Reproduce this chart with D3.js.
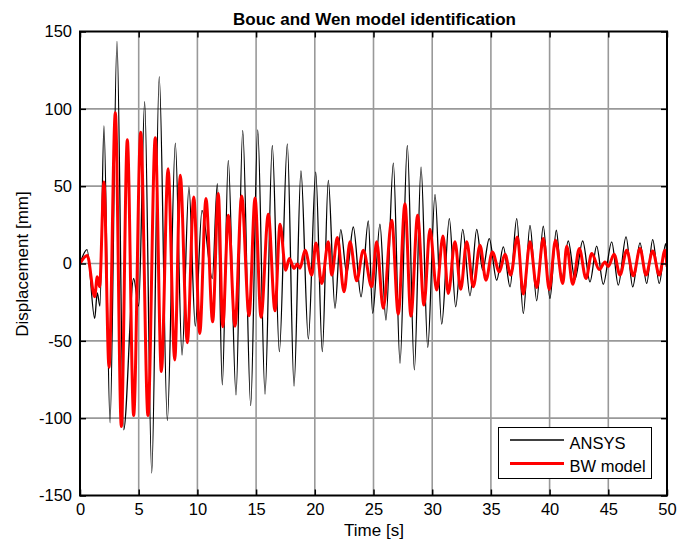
<!DOCTYPE html>
<html>
<head>
<meta charset="utf-8">
<script src="https://cdn.jsdelivr.net/npm/d3@7"></script>
<style>
  body { margin: 0; background: #fff; }
  svg { display: block; font-family: "Liberation Sans", Arial, Helvetica, sans-serif; }
</style>
</head>
<body>
<div id="chart"></div>
<script>
// peaks and troughs, time [s] / displacement [mm]
const ansysT = [0, 0.6, 1.25, 1.47, 1.7, 2.04, 2.56, 3.15, 3.72, 4.57, 5.0, 5.51, 6.11, 6.75, 7.44, 8.12, 8.69, 9.28, 9.82, 10.39,
  11.27, 11.7, 12.12, 12.63, 13.29, 13.86, 14.54, 15.14, 15.76, 16.38, 16.98, 17.66, 18.23, 18.82, 19.45, 20.08, 20.64, 21.15,
  21.72, 22.21, 22.72, 23.28, 23.94, 24.56, 24.93, 25.55, 26.06, 26.69, 27.26, 27.88, 28.48, 29.05, 29.62, 30.24, 30.81,
  31.46, 32.0, 32.6, 33.22, 33.79, 34.3, 34.86, 35.49, 36.06, 36.63, 37.2, 37.76, 38.33, 38.9, 39.46, 40.03, 40.57,
  41.03, 41.59, 42.16, 42.82, 43.44, 44.01, 44.57, 45.29, 45.85, 46.51, 47.08, 47.7, 48.27, 48.78, 49.34, 49.89, 50];
const ansysV = [0, 9, -35.5, -19, -27.5, 89, -103, 143.6, -107.5, -9.7, -27.5, 104.7, -135.5, 120.8, -101.5, 77.8, -59.2, 49.4, -40.5, 34.4,
  -9.7, 51.6, -78.5, 66.6, -85, 86, -91.9, 86.4, -84.5, 76.3, -57, 77.4, -79.2, 59.8, -48.8, 59.1, -57, 53.7,
  -29, 21.9, -6.5, 23.6, -21.5, 27.5, -32.3, 25.4, -36.6, 64.9, -64.5, 76.3, -68.8, 62.3, -54.2, 44.7, -39.2,
  29, -28, 22.1, -20.9, 22.1, -4.3, 16.1, -10.8, 10.7, -15.1, 29, -32.3, 24.7, -24.1, 24.1, -22.6, 21.5,
  -10.8, 14.6, -10.3, 14.6, -11.9, 11.2, -13.4, 14, -14, 17.2, -15.1, 13.3, -12.9, 15.5, -12.9, 12.9, 2];

const bwT = [0, 0.62, 1.25, 1.47, 1.67, 2.04, 2.47, 3.01, 3.52, 4.03, 4.57, 5.17, 5.79, 6.41, 6.93, 7.5, 8.07, 8.54, 9.14, 9.69, 10.2,
  10.73, 11.3, 11.78, 12.16, 12.63, 13.2, 13.77, 14.4, 14.91, 15.42, 16.04, 16.61, 17.04, 17.52, 17.83, 18.23, 18.51, 18.74,
  19.17, 19.74, 20.1, 20.59, 21.15, 21.44, 21.92, 22.49, 23.0, 23.57, 24.13, 24.85, 25.27, 25.83, 26.55, 27.11, 27.68,
  28.19, 28.76, 29.3, 29.81, 30.38, 30.92, 31.37, 31.94, 32.43, 32.94, 33.5, 34.07, 34.58, 35.12, 35.72, 36.2, 36.69,
  37.25, 37.76, 38.33, 38.9, 39.46, 39.97, 40.5, 41.12, 41.46, 41.97, 42.53, 43.1, 43.59, 44.23, 44.72, 45.0, 45.49,
  46.0, 46.57, 47.13, 47.7, 48.21, 48.78, 49.34, 49.83, 50];
const bwV = [0, 5.2, -21.5, -8.6, -15, 52.7, -67, 97.4, -105.4, 80, -98.3, 84.9, -98.3, 81.3, -69.9, 61.3, -62.4, 57, -51.2, 43, -45.2,
  42, -37.7, 45.2, -40.9, 31.2, -40.5, 43.6, -33.8, 42.3, -34.8, 31.8, -30.6, 25.4, -4.3, 3.2, -3.2, -0.4, -3,
  8.6, -7.5, 13.3, -12.9, 14, -7.5, 16.8, -18.3, 14, -11.2, 8.6, -15.1, 14, -29, 27.9, -32.7, 38.7,
  -34, 31.2, -26.9, 22.1, -17.2, 17.8, -19.4, 14, -16.6, 14, -15.1, 11.8, -10.8, 7.5, -5.4, 6, -7.5,
  17.2, -19.8, 14, -15.5, 16.1, -16.8, 15, -12.9, 11.2, -13.4, 9.7, -9.7, 6.5, -3.9, 1, -2, 6,
  -7.5, 8.6, -8, 9.7, -7.5, 8.1, -7.5, 8.6, -2];

const xTicks = [0, 5, 10, 15, 20, 25, 30, 35, 40, 45, 50];
const yTicks = [-150, -100, -50, 0, 50, 100, 150];
const seriesNames = ["ANSYS", "BW model"];

const width = 691, height = 544;
const margin = {top: 31.5, right: 24, bottom: 48.5, left: 80};

const svg = d3.select("#chart").append("svg")
  .attr("width", width).attr("height", height);

const x = d3.scaleLinear().domain([0, 50]).range([margin.left, width - margin.right]);
const y = d3.scaleLinear().domain([-150, 150]).range([height - margin.bottom, margin.top]);

// grid
svg.append("g").selectAll("line").data(xTicks.slice(1, -1)).join("line")
  .attr("x1", d => x(d)).attr("x2", d => x(d))
  .attr("y1", y(150)).attr("y2", y(-150))
  .attr("stroke", "#999").attr("stroke-width", 1.6);
svg.append("g").selectAll("line").data(yTicks.slice(1, -1)).join("line")
  .attr("x1", x(0)).attr("x2", x(50))
  .attr("y1", d => y(d)).attr("y2", d => y(d))
  .attr("stroke", "#999").attr("stroke-width", 1.6);

svg.append("clipPath").attr("id", "clip").append("rect")
  .attr("x", x(0)).attr("y", y(150)).attr("width", x(50) - x(0)).attr("height", y(-150) - y(150));

const line = d3.line()
  .x(d => x(d[0])).y(d => y(d[1]))
  .curve(d3.curveMonotoneX);

const ansys = d3.zip(ansysT, ansysV);
const bw = d3.zip(bwT, bwV);

const plot = svg.append("g").attr("clip-path", "url(#clip)");
plot.append("path").datum(ansys).attr("d", line)
  .attr("fill", "none").attr("stroke", "#000").attr("stroke-width", 1.3);
plot.append("path").datum(bw).attr("d", line)
  .attr("fill", "none").attr("stroke", "#ff0000").attr("stroke-width", 3)
  .attr("stroke-linejoin", "round");

// axes, ticks pointing inward on all four sides
const tk = 6;
const plain = d => String(d);
svg.append("g").attr("transform", `translate(0,${y(-150)})`)
  .call(d3.axisBottom(x).tickValues(xTicks).tickSize(-tk).tickPadding(8).tickFormat(plain));
svg.append("g").attr("transform", `translate(0,${y(150)})`)
  .call(d3.axisTop(x).tickValues(xTicks).tickSize(-tk).tickFormat(""));
svg.append("g").attr("transform", `translate(${x(0)},0)`)
  .call(d3.axisLeft(y).tickValues(yTicks).tickSize(-tk).tickPadding(8).tickFormat(plain));
svg.append("g").attr("transform", `translate(${x(50)},0)`)
  .call(d3.axisRight(y).tickValues(yTicks).tickSize(-tk).tickFormat(""));

svg.selectAll(".domain").remove();
svg.selectAll(".tick line").attr("stroke", "#000").attr("stroke-width", 1.5);
svg.selectAll(".tick text").attr("font-size", 16.5).attr("fill", "#000")
  .attr("font-family", "\"Liberation Sans\", Arial, sans-serif");

svg.append("rect")
  .attr("x", x(0)).attr("y", y(150)).attr("width", x(50) - x(0)).attr("height", y(-150) - y(150))
  .attr("fill", "none").attr("stroke", "#000").attr("stroke-width", 2);

// labels
svg.append("text").attr("x", 374.5).attr("y", 25)
  .attr("text-anchor", "middle").attr("font-size", 17).attr("font-weight", "bold")
  .text("Bouc and Wen model identification");
svg.append("text").attr("x", 374).attr("y", 536)
  .attr("text-anchor", "middle").attr("font-size", 17)
  .text("Time [s]");
svg.append("text").attr("transform", "translate(28,264) rotate(-90)")
  .attr("text-anchor", "middle").attr("font-size", 17)
  .text("Displacement [mm]");

// legend
const lg = svg.append("g").attr("transform", "translate(498.5,427.5)");
lg.append("rect").attr("width", 153).attr("height", 51)
  .attr("fill", "#fff").attr("stroke", "#000").attr("stroke-width", 1);
const colors = ["#000", "#ff0000"];
const widths = [1.3, 3];
seriesNames.forEach(function(name, i) {
  const yy = 12.5 + i * 23.5;
  lg.append("line").attr("x1", 11.5).attr("x2", 65.5).attr("y1", yy).attr("y2", yy)
    .attr("stroke", colors[i]).attr("stroke-width", widths[i]);
  lg.append("text").attr("x", 71).attr("y", yy + 8.5).attr("font-size", 16.5).text(name);
});
</script>
</body>
</html>
